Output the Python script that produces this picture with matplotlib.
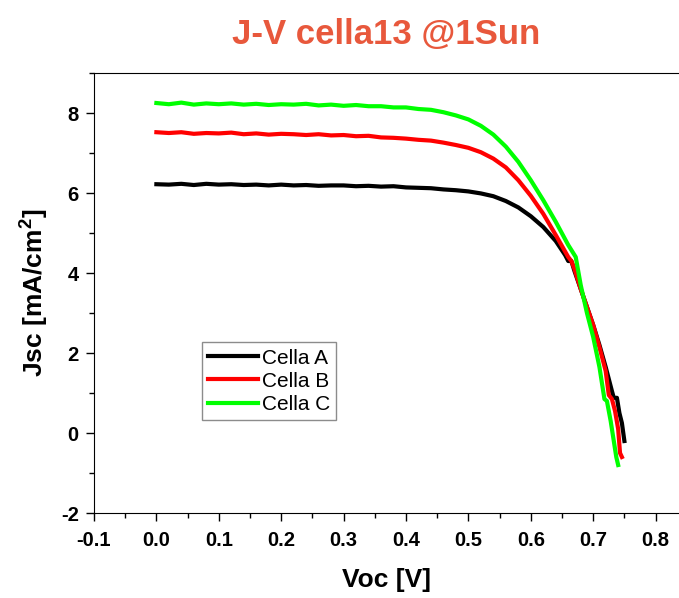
import matplotlib
matplotlib.use("Agg")
import matplotlib.pyplot as plt
from matplotlib.ticker import MultipleLocator

plt.rcParams['font.family'] = ['Liberation Sans', 'DejaVu Sans']
plt.rcParams['axes.unicode_minus'] = False

# Cella A
v_a = [0.00, 0.02, 0.04, 0.06, 0.08, 0.10, 0.12, 0.14, 0.16, 0.18, 0.20, 0.22,
       0.24, 0.26, 0.28, 0.30, 0.32, 0.34, 0.36, 0.38, 0.40, 0.42, 0.44, 0.46,
       0.48, 0.50, 0.52, 0.54, 0.56, 0.58, 0.60, 0.62, 0.64, 0.655, 0.66, 0.665,
       0.67, 0.68, 0.69, 0.70, 0.71, 0.72, 0.73, 0.733, 0.738, 0.742, 0.746, 0.75]
j_a = [6.22, 6.21, 6.23, 6.20, 6.23, 6.21, 6.22, 6.20, 6.21, 6.19, 6.21, 6.19,
       6.20, 6.18, 6.19, 6.19, 6.17, 6.18, 6.16, 6.17, 6.14, 6.13, 6.12, 6.09,
       6.07, 6.04, 5.99, 5.92, 5.80, 5.64, 5.42, 5.15, 4.80, 4.45, 4.30, 4.30,
       4.05, 3.60, 3.15, 2.70, 2.20, 1.65, 1.05, 0.88, 0.88, 0.50, 0.25, -0.20]

# Cella B
v_b = [0.00, 0.02, 0.04, 0.06, 0.08, 0.10, 0.12, 0.14, 0.16, 0.18, 0.20, 0.22,
       0.24, 0.26, 0.28, 0.30, 0.32, 0.34, 0.36, 0.38, 0.40, 0.42, 0.44, 0.46,
       0.48, 0.50, 0.52, 0.54, 0.56, 0.58, 0.60, 0.62, 0.64, 0.66, 0.665, 0.67,
       0.68, 0.69, 0.70, 0.71, 0.72, 0.725, 0.73, 0.735, 0.74, 0.743, 0.746]
j_b = [7.52, 7.50, 7.52, 7.48, 7.50, 7.49, 7.51, 7.47, 7.49, 7.46, 7.48, 7.47,
       7.45, 7.47, 7.44, 7.45, 7.42, 7.43, 7.39, 7.38, 7.36, 7.33, 7.31, 7.26,
       7.20, 7.13, 7.02, 6.86, 6.64, 6.32, 5.93, 5.48, 4.95, 4.40, 4.30, 4.10,
       3.60, 3.15, 2.70, 2.15, 1.55, 0.95, 0.85, 0.55, 0.10, -0.50, -0.60]

# Cella C
v_c = [0.00, 0.02, 0.04, 0.06, 0.08, 0.10, 0.12, 0.14, 0.16, 0.18, 0.20, 0.22,
       0.24, 0.26, 0.28, 0.30, 0.32, 0.34, 0.36, 0.38, 0.40, 0.42, 0.44, 0.46,
       0.48, 0.50, 0.52, 0.54, 0.56, 0.58, 0.60, 0.62, 0.64, 0.66, 0.668, 0.672,
       0.68, 0.69, 0.70, 0.71, 0.718, 0.722, 0.728, 0.733, 0.737, 0.74]
j_c = [8.25, 8.22, 8.26, 8.21, 8.24, 8.22, 8.24, 8.21, 8.23, 8.20, 8.22, 8.21,
       8.23, 8.19, 8.21, 8.18, 8.20, 8.17, 8.17, 8.14, 8.14, 8.10, 8.08, 8.02,
       7.94, 7.84, 7.68, 7.46, 7.16, 6.78, 6.32, 5.82, 5.28, 4.70, 4.50, 4.40,
       3.70, 3.00, 2.40, 1.65, 0.85, 0.80, 0.30, -0.20, -0.60, -0.80]

fig = plt.figure(figsize=(6.79, 5.98), dpi=100)
ax = fig.add_axes([0.1384, 0.1421, 0.8616, 0.7358])

ax.plot(v_a, j_a, color="black", lw=3, label="Cella A")
ax.plot(v_b, j_b, color="#ff0000", lw=3, label="Cella B")
ax.plot(v_c, j_c, color="#00ff00", lw=3, label="Cella C")

ax.set_xlim(-0.1, 0.8375)
ax.set_ylim(-2, 9)
ax.xaxis.set_major_locator(MultipleLocator(0.1))
ax.xaxis.set_minor_locator(MultipleLocator(0.05))
ax.yaxis.set_major_locator(MultipleLocator(2))
ax.yaxis.set_minor_locator(MultipleLocator(1))
ax.xaxis.set_major_formatter(plt.FuncFormatter(lambda x, p: f"{x:.1f}"))
ax.tick_params(which="major", direction="out", length=6, width=1,
               labelsize=14.5)
ax.tick_params(axis="x", which="major", pad=7)
ax.tick_params(axis="y", which="major", pad=5)
ax.tick_params(which="minor", direction="out", length=3.5, width=1)
for lab in ax.get_xticklabels() + ax.get_yticklabels():
    lab.set_fontweight("bold")
ax.spines["right"].set_visible(False)

ax.set_xlabel("Voc [V]", fontsize=19, fontweight="bold", labelpad=13)
ax.set_ylabel("Jsc [mA/cm$^\\mathregular{2}$]", fontsize=19,
              fontweight="bold", labelpad=8)
fig.suptitle("J-V cella13 @1Sun", x=0.568, y=0.97, fontsize=25,
             fontweight="bold", color="#e8583c")

leg = ax.legend(loc="lower left", bbox_to_anchor=(0.185, 0.211),
                borderaxespad=0, fontsize=15, frameon=True, fancybox=False,
                handlelength=2.4, handletextpad=0.15, borderpad=0.3,
                labelspacing=0.2)
leg.get_frame().set_edgecolor("#707070")
leg.get_frame().set_linewidth(1)

fig.savefig("out.png", dpi=100)
